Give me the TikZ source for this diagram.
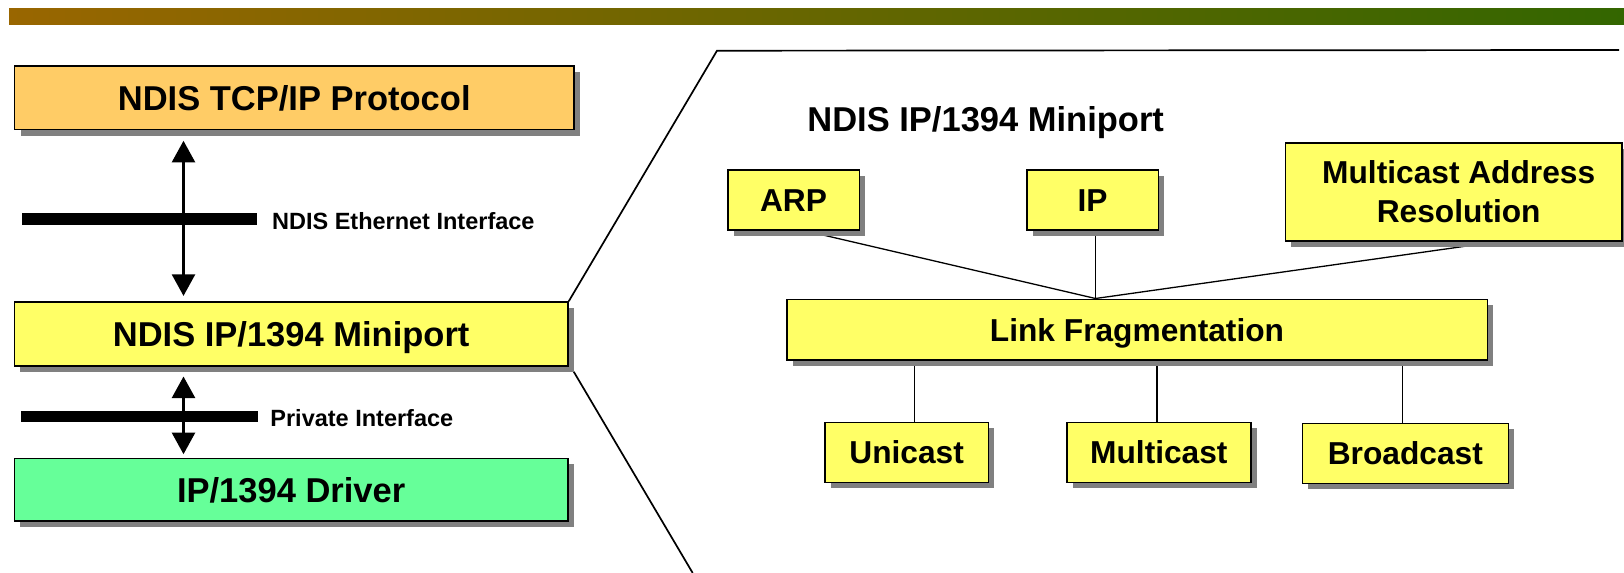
\documentclass[tikz,border=0pt]{standalone}
\usepackage{fontspec}
\setmainfont{Liberation Sans}
\usetikzlibrary{arrows.meta,shadows,backgrounds,calc}

\definecolor{tcpfill}{HTML}{FFCC66}
\definecolor{minifill}{HTML}{FFFF66}
\definecolor{drvfill}{HTML}{66FF99}
\definecolor{shade}{HTML}{808080}
\definecolor{barleft}{HTML}{996600}
\definecolor{barright}{HTML}{336600}

\begin{document}
\begin{tikzpicture}[x=0.5pt, y=-0.5pt,
  box/.style={draw=black, line width=0.8pt, rectangle, inner sep=0pt,
    drop shadow={shadow xshift=3pt, shadow yshift=-3pt, fill=shade, opacity=1}},
  bigtext/.style={font=\bfseries\fontsize{17.25}{20}\selectfont,
    text height=12.35pt, text depth=0pt},
  smalltext/.style={font=\bfseries\fontsize{15.85}{19.15}\selectfont,
    text height=11.35pt, text depth=0pt},
  iflabel/.style={font=\bfseries\fontsize{11.75}{14}\selectfont,
    text height=8.4pt, text depth=0pt, inner sep=0pt, anchor=west},
  ifbar/.style={fill=black, draw=none, inner sep=0pt, rectangle},
  biarrow/.style={line width=1.35pt,
    arrows={Triangle[width=11.5pt,length=10.8pt]-Triangle[width=11.5pt,length=10.8pt]}},
  conn/.style={line width=0.65pt},
  zoomline/.style={line width=0.85pt}
]
\useasboundingbox (0,0) rectangle (1624,573);

% title bar
\shade[left color=barleft, right color=barright] (9,8) rectangle (1624,24);

% ---------- protocol stack ----------
\node[box, bigtext, fill=tcpfill, minimum width=279.75pt, minimum height=31.75pt]
  (tcp) at (294.25,97.75) {NDIS TCP/IP Protocol};
\node[box, bigtext, fill=minifill, minimum width=276.85pt, minimum height=32pt]
  (mini) at (291.15,334) {NDIS IP/1394 Miniport};
\node[box, bigtext, fill=drvfill, minimum width=276.85pt, minimum height=31.35pt]
  (drv) at (291.15,489.65) {IP/1394 Driver};

% interfaces
\node[ifbar, minimum width=117.6pt, minimum height=5.85pt] (ethbar) at (139.4,219.15) {};
\node[ifbar, minimum width=118.1pt, minimum height=5.5pt] (privbar) at (139.5,416.2) {};
\node[iflabel] (ethlab) at (271.7,221.3) {NDIS Ethernet Interface};
\node[iflabel] (privlab) at (270,417.7) {Private Interface};

\coordinate (ax) at (183.5,0);
\draw[biarrow, shorten <=5.25pt, shorten >=2.65pt] (tcp.south -| ax) -- (mini.north -| ax);
\draw[biarrow, shorten <=4.85pt, shorten >=1.65pt] (mini.south -| ax) -- (drv.north -| ax);

% ---------- miniport detail ----------
\node[bigtext, anchor=west, inner sep=0pt] (head) at (807,118.75) {NDIS IP/1394 Miniport};

\node[box, smalltext, fill=minifill, minimum width=65.8pt, minimum height=30pt]
  (arp) at (793.5,200) {ARP};
\node[box, smalltext, fill=minifill, minimum width=65.8pt, minimum height=30pt]
  (ip) at (1092.5,200) {IP};
\node[box, fill=minifill, minimum width=168.3pt, minimum height=49pt, align=center,
  font=\bfseries\fontsize{15.85}{19.15}\selectfont]
  (mar) at (1453.7,191.7) {\hspace*{5pt}Multicast Address\\\hspace*{5pt}Resolution};
\node[box, smalltext, fill=minifill, minimum width=350.3pt, minimum height=30.35pt]
  (lf) at (1137,329.65) {Link Fragmentation};
\node[box, smalltext, fill=minifill, minimum width=81.65pt, minimum height=30pt]
  (uni) at (906.65,452.3) {Unicast};
\node[box, smalltext, fill=minifill, minimum width=92.15pt, minimum height=30pt]
  (mul) at (1158.85,452.3) {Multicast};
\node[box, smalltext, fill=minifill, minimum width=103pt, minimum height=30pt]
  (bro) at (1405.3,453.3) {Broadcast};

% zoom outline
\coordinate (zt) at (717,50.7);
\coordinate (zr) at (1619,50);
\coordinate (zb) at (692.7,573);

\begin{scope}[on background layer]
  \draw[zoomline] (mini.north east) -- (zt) -- (zr);
  \draw[zoomline] ($(mini.south east)+(5,5)$) -- (zb);

  \coordinate (J) at ($(ip.south |- lf.north)+(3,0)$);
  \draw[conn] ($(arp.south)+(11.5,0)$) -- (J);
  \draw[conn] ($(ip.south)+(3,0)$) -- (J);
  \draw[conn] ($(mar.south)+(45,0)$) -- (J);

  \coordinate (ut) at ($(uni.north)+(7.7,0)$);
  \coordinate (mt) at ($(mul.north)+(-1.85,0)$);
  \coordinate (bt) at ($(bro.north)+(-3,0)$);
  \draw[conn] (ut) -- (ut |- lf.south);
  \draw[conn] (mt) -- (mt |- lf.south);
  \draw[conn] (bt) -- (bt |- lf.south);
\end{scope}
\end{tikzpicture}
\end{document}
